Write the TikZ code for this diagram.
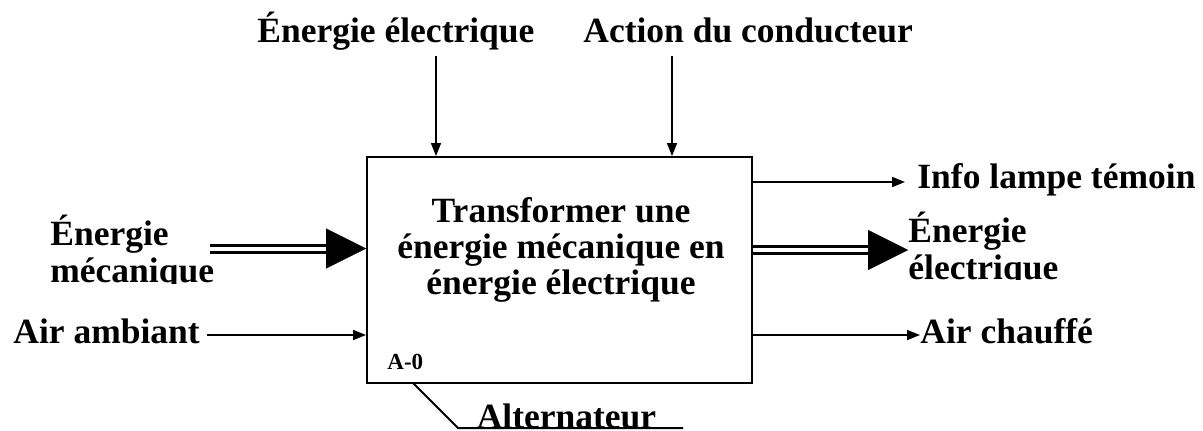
\documentclass[tikz,border=0pt]{standalone}
\usepackage{fontspec}
\setmainfont{Liberation Serif}
\usetikzlibrary{arrows.meta,positioning}

\begin{document}
\begin{tikzpicture}[x=0.5pt, y=-0.5pt, >={Triangle[length=6.5pt,width=5pt]},
  lbl/.style={font=\fontsize{17.75}{18.5}\selectfont\bfseries, inner sep=0pt},
  flow/.style={->, line width=0.8pt},
  dbl/.style={double, double distance=2pt, line width=1.5pt},
  bigtip/.style={-{Triangle[length=20pt,width=20pt]}, line width=0.1pt}]
  \useasboundingbox (0,0) rectangle (1203,430);

  % the function box
  \node[draw, line width=1pt, minimum width=192.5pt, minimum height=113pt,
    inner sep=0pt] (fun) at (559.5,270) {};
  \node[lbl, align=center, anchor=base, font=\fontsize{17.75}{18}\selectfont\bfseries]
    (funtxt) at (561,294) {Transformer une\\énergie mécanique en\\énergie électrique};
  \node[lbl, font=\fontsize{11.5}{12}\selectfont\bfseries, anchor=base west]
    (code) at (387,369) {A-0};

  % controls (top)
  \node[lbl, anchor=base west] (ctlelec) at (257,42) {Énergie électrique};
  \node[lbl, anchor=base west] (ctlact) at (583,42) {Action du conducteur};
  \coordinate (ctlelecA) at (436,56);
  \coordinate (ctlactA) at (672,56);
  \draw[flow] (ctlelecA) -- (ctlelecA |- fun.north);
  \draw[flow] (ctlactA) -- (ctlactA |- fun.north);

  % inputs (left)
  \begin{scope}
    \clip (0,200) rectangle (366,283);
    \node[lbl, align=left, anchor=base west] (inmec) at (50,282)
      {Énergie\\mécanique};
  \end{scope}
  \coordinate (inmecA) at (210,248.5);
  \coordinate (inmecB) at (332,248.5);
  \draw[dbl] (inmecA) -- (inmecB);
  \draw[bigtip] (inmecB) -- (inmecB -| fun.west);
  \node[lbl, anchor=base west] (inair) at (13,343) {Air ambiant};
  \coordinate (inairA) at (207,335);
  \draw[flow] (inairA) -- (inairA -| fun.west);

  % outputs (right)
  \coordinate (outinfoA) at (fun.east |- 0,182);
  \node[lbl, anchor=base west] (outinfo) at (917,188) {Info lampe témoin};
  \draw[flow] (outinfoA) -- (905,182);
  \coordinate (outelecA) at (fun.east |- 0,250);
  \coordinate (outelecB) at (868,250);
  \draw[dbl] (outelecA) -- (outelecB);
  \draw[bigtip] (outelecB) -- (908,250);
  \begin{scope}
    \clip (760,200) rectangle (1203,279);
    \node[lbl, align=left, anchor=base west] (outelec) at (908,279)
      {Énergie\\électrique};
  \end{scope}
  \coordinate (outairA) at (fun.east |- 0,335);
  \node[lbl, anchor=base west] (outair) at (920,343) {Air chauffé};
  \draw[flow] (outairA) -- (outair.west |- outairA);

  % mechanism (bottom)
  \node[lbl, anchor=base] (mech) at (566.5,428.5) {Alternateur};
  \coordinate (mechA) at (413,383);
  \coordinate (mechB) at (458,428);
  \coordinate (mechC) at (683,428);
  \draw[line width=1pt] (mechA) -- (mechB) -- (mechC);
\end{tikzpicture}
\end{document}
